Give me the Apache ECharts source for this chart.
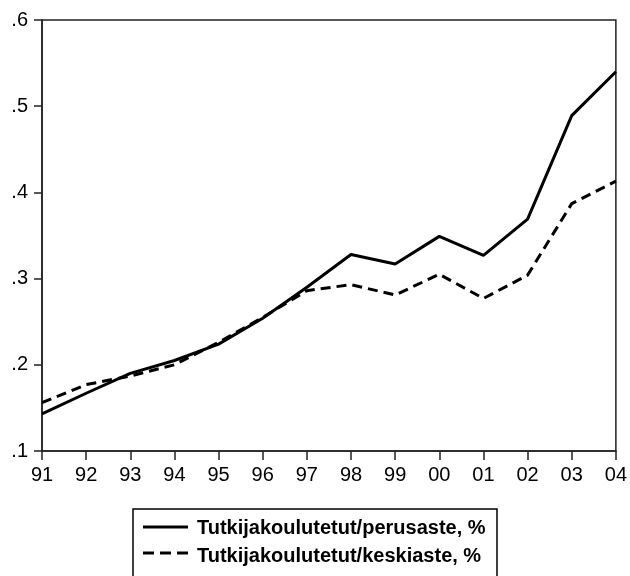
<!DOCTYPE html>
<html>
<head>
<meta charset="utf-8">
<script src="https://cdn.jsdelivr.net/npm/echarts@6/dist/echarts.min.js"></script>
<style>
  html, body { margin: 0; padding: 0; background: #fff; }
  #chart { width: 630px; height: 576px; }
</style>
</head>
<body>
<div id="chart"></div>
<script>
// vuodet 1991-2004
var years = ["91", "92", "93", "94", "95", "96", "97", "98", "99", "00", "01", "02", "03", "04"];
var perusaste = [0.143, 0.167, 0.190, 0.205, 0.224, 0.254, 0.290, 0.328, 0.317, 0.349, 0.327, 0.369, 0.489, 0.540];
var keskiaste = [0.156, 0.177, 0.187, 0.200, 0.226, 0.255, 0.286, 0.293, 0.281, 0.305, 0.277, 0.304, 0.387, 0.413];
var yTicks = [0.1, 0.2, 0.3, 0.4, 0.5, 0.6];
var names = ["Tutkijakoulutetut/perusaste, %", "Tutkijakoulutetut/keskiaste, %"];

var chart = echarts.init(document.getElementById("chart"));
var axisColor = "#222";

chart.setOption({
  animation: false,
  grid: {
    left: 42, right: 14, top: 20, bottom: 125,
    show: true, borderColor: axisColor, borderWidth: 1.5, backgroundColor: "#fff"
  },
  xAxis: {
    type: "category",
    data: years,
    boundaryGap: false,
    axisLine: { lineStyle: { color: axisColor, width: 1.5 } },
    axisTick: { alignWithLabel: true, length: 9, lineStyle: { color: axisColor, width: 1.5 } },
    axisLabel: { color: "#000", fontFamily: "Liberation Sans", fontSize: 20, margin: 14, interval: 0 },
    splitLine: { show: false }
  },
  yAxis: {
    type: "value",
    min: yTicks[0],
    max: yTicks[yTicks.length - 1],
    interval: 0.1,
    axisLine: { show: true, lineStyle: { color: axisColor, width: 1.5 } },
    axisTick: { show: true, length: 8, lineStyle: { color: axisColor, width: 1.5 } },
    axisLabel: {
      color: "#000", fontFamily: "Liberation Sans", fontSize: 20, margin: 14,
      formatter: function (v) { return v.toFixed(1).replace(/^0/, ""); }
    },
    splitLine: { show: false }
  },
  legend: {
    orient: "vertical",
    left: 145, top: 518,
    padding: 0,
    itemGap: 8,
    itemWidth: 47, itemHeight: 18,
    textStyle: { color: "#000", fontFamily: "Liberation Sans", fontWeight: "bold", fontSize: 20 },
    data: [
      { name: names[0], icon: "none" },
      { name: names[1], icon: "none" }
    ]
  },
  // legendin kehys ja viivanäytteet
  graphic: [
    {
      type: "rect",
      shape: { x: 133, y: 509, width: 364, height: 80 },
      style: { fill: null, stroke: "#000", lineWidth: 1.5 },
      silent: true
    },
    {
      type: "line",
      shape: { x1: 143, y1: 527, x2: 188, y2: 527 },
      style: { stroke: "#000", lineWidth: 3 },
      silent: true
    },
    {
      type: "line",
      shape: { x1: 143, y1: 553, x2: 188, y2: 553 },
      style: { stroke: "#000", lineWidth: 3, lineDash: [11, 6] },
      silent: true
    }
  ],
  series: [
    {
      name: names[0],
      type: "line",
      data: perusaste,
      symbol: "none",
      lineStyle: { color: "#000", width: 3 },
      itemStyle: { color: "#000" }
    },
    {
      name: names[1],
      type: "line",
      data: keskiaste,
      symbol: "none",
      lineStyle: { color: "#000", width: 3, type: [10, 6] },
      itemStyle: { color: "#000" }
    }
  ]
});
</script>
</body>
</html>
